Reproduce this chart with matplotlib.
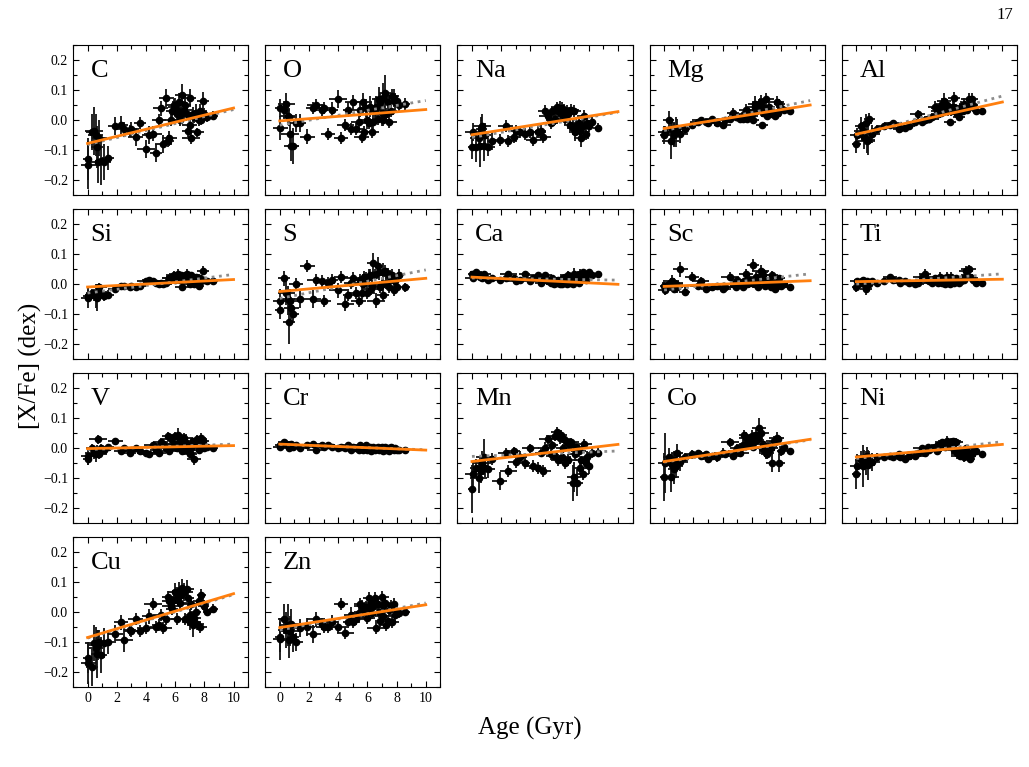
import numpy as np
import matplotlib
matplotlib.use("Agg")
import matplotlib.pyplot as plt
from matplotlib.ticker import MultipleLocator

plt.rcParams['font.family'] = ['Liberation Serif', 'DejaVu Serif']
plt.rcParams['mathtext.fontset'] = 'stix'

elements = ["C", "O", "Na", "Mg", "Al", "Si", "S", "Ca", "Sc", "Ti",
            "V", "Cr", "Mn", "Co", "Ni", "Cu", "Zn"]

ages = [0.0, 0.05, 0.3, 0.45, 0.55, 0.65, 0.7, 0.8, 0.9, 1.1,
        1.4, 1.9, 2.3, 2.5, 2.9, 3.0, 3.3, 3.6, 4.0, 4.2,
        4.5, 4.7, 4.9, 5.0, 5.2, 5.4, 5.5, 5.6, 5.7, 5.8,
        5.9, 6.0, 6.1, 6.2, 6.25, 6.3, 6.4, 6.5, 6.6, 6.7,
        6.8, 6.9, 7.0, 7.05, 7.1, 7.2, 7.3, 7.4, 7.5, 7.6,
        7.7, 7.8, 7.9, 8.0, 8.2, 8.6]
age_err = [0.3, 0.5, 0.4, 0.6, 0.5, 0.4, 0.6, 0.5, 0.4, 0.5,
           0.4, 0.5, 0.5, 0.6, 0.4, 0.5, 0.5, 0.4, 0.6, 0.5,
           0.6, 0.4, 0.5, 0.5, 0.6, 0.5, 0.4, 0.5, 0.6, 0.4,
           0.5, 0.5, 0.4, 0.6, 0.5, 0.5, 0.4, 0.5, 0.6, 0.4,
           0.5, 0.4, 0.5, 0.4, 0.6, 0.4, 0.5, 0.4, 0.5, 0.4,
           0.5, 0.3, 0.4, 0.3, 0.3, 0.3]

C = [-0.13, -0.15, -0.04, -0.035, -0.05, -0.09, -0.14, -0.06, -0.135, -0.14,
     -0.125, -0.02, -0.015, -0.03, -0.035, -0.03, -0.055, -0.01, -0.095, -0.05,
     -0.045, -0.11, 0.0, 0.04, -0.08, 0.075, -0.07, -0.06, 0.0, 0.03,
     0.05, 0.045, 0.02, 0.03, 0.06, 0.0, 0.02, 0.085, 0.035, 0.05,
     0.02, -0.035, -0.015, 0.075, -0.06, 0.02, 0.01, 0.025, -0.04, 0.0,
     0.03, 0.0, 0.065, 0.02, 0.01, 0.015]
C_err = [.07, .08, .06, .08, .07, .07, .07, .06, .08, .06,
         .04, .03, .03, .025, .02, .025, .03, .02, .03, .03,
         .025, .03, .02, .025, .03, .03, .02, .025, .02, .025,
         .02, .03, .025, .02, .03, .02, .025, .035, .03, .025,
         .02, .02, .025, .03, .02, .025, .02, .03, .015, .02,
         .025, .015, .03, .02, .015, .015]

O = [0.04, -0.025, 0.035, 0.055, 0.015, 0.01, -0.045, -0.085, -0.085, -0.01,
     -0.01, -0.055, 0.04, 0.05, 0.035, 0.04, -0.045, 0.035, 0.07, -0.06,
     -0.015, 0.035, -0.03, 0.06, -0.03, -0.005, 0.035, -0.055, 0.06, -0.04,
     0.04, 0.0, -0.01, 0.045, 0.04, -0.04, -0.005, 0.035, 0.045, 0.005,
     0.07, 0.06, 0.025, 0.0, 0.075, 0.09, 0.02, 0.06, -0.005, 0.03,
     0.08, 0.075, 0.06, 0.065, 0.05, 0.055]
O_err = [.03, .04, .03, .035, .03, .03, .04, .05, .06, .03,
         .03, .025, .02, .02, .02, .02, .02, .025, .03, .02,
         .02, .025, .02, .025, .02, .02, .025, .02, .03, .02,
         .03, .03, .02, .035, .02, .02, .025, .04, .035, .02,
         .04, .03, .045, .02, .05, .06, .02, .03, .02, .02,
         .025, .03, .03, .02, .02, .02]

Na = [-0.09, -0.04, -0.09, -0.06, -0.085, -0.03, -0.02, -0.085, -0.05, -0.09,
      -0.07, -0.065, -0.02, -0.07, -0.055, -0.035, -0.04, -0.045, -0.04, -0.065,
      -0.04, -0.035, -0.055, 0.03, 0.015, -0.01, 0.03, 0.0, 0.005, 0.045,
      0.03, 0.04, 0.02, 0.04, 0.025, 0.035, 0.005, 0.03, 0.02, -0.015,
      0.035, -0.025, 0.03, -0.04, -0.02, -0.03, -0.01, -0.035, -0.06, -0.02,
      0.015, -0.045, -0.01, -0.02, -0.005, -0.025]
Na_err = [.04, .03, .05, .04, .07, .04, .04, .05, .04, .03,
          .03, .02, .02, .02, .02, .02, .02, .02, .02, .02,
          .02, .02, .02, .02, .02, .02, .015, .02, .02, .015,
          .02, .025, .02, .02, .02, .02, .02, .02, .02, .02,
          .02, .025, .02, .03, .025, .02, .02, .025, .03, .02,
          .02, .02, .02, .02, .015, .015]

Mg = [-0.05, -0.04, 0.0, -0.07, -0.03, -0.045, -0.05, -0.04, -0.025, -0.045,
      -0.03, -0.015, -0.005, 0.0, -0.005, -0.01, 0.005, -0.01, -0.015, 0.0,
      0.005, 0.025, 0.01, 0.01, 0.005, 0.005, 0.02, 0.035, 0.005, 0.025,
      0.015, 0.02, 0.0, 0.045, 0.055, 0.035, 0.04, 0.05, 0.06, -0.015,
      0.025, 0.04, 0.07, 0.015, 0.03, 0.045, 0.03, 0.02, 0.02, 0.015,
      0.06, 0.025, 0.055, 0.04, 0.035, 0.03]
Mg_err = [.03, .02, .03, .06, .03, .04, .04, .05, .03, .03,
          .015, .01, .01, .01, .01, .01, .01, .01, .01, .01,
          .015, .015, .01, .01, .01, .01, .015, .02, .01, .015,
          .01, .015, .01, .02, .025, .015, .015, .02, .025, .01,
          .015, .02, .02, .01, .015, .015, .01, .01, .01, .01,
          .02, .01, .015, .01, .01, .01]

Al = [-0.08, -0.05, -0.02, -0.035, -0.055, -0.01, -0.07, -0.065, 0.005, -0.045,
      -0.03, -0.02, -0.015, -0.01, -0.03, -0.025, -0.025, -0.02, -0.005, 0.02,
      -0.005, 0.0, 0.005, 0.005, 0.01, 0.045, 0.03, 0.02, 0.04, 0.025,
      0.055, 0.065, 0.03, 0.05, 0.035, 0.045, -0.005, 0.03, 0.045, 0.075,
      0.04, 0.02, 0.03, 0.01, 0.035, 0.045, 0.03, 0.055, 0.04, 0.035,
      0.07, 0.055, 0.07, 0.05, 0.03, 0.03]
Al_err = [.03, .025, .03, .03, .04, .03, .04, .05, .02, .03,
          .015, .01, .01, .01, .01, .01, .01, .01, .01, .015,
          .01, .01, .01, .01, .01, .02, .015, .02, .01, .015,
          .02, .025, .015, .02, .02, .015, .01, .015, .02, .02,
          .015, .01, .015, .01, .015, .02, .01, .02, .015, .015,
          .02, .015, .02, .01, .01, .01]

Si = [-0.04, -0.045, -0.03, -0.035, -0.04, -0.045, -0.025, -0.01, -0.03, -0.04,
      -0.035, -0.015, -0.005, -0.005, -0.01, -0.005, -0.01, -0.005, 0.01, 0.015,
      0.01, 0.005, 0.0, 0.005, 0.0, 0.005, 0.01, 0.02, 0.02, 0.025,
      0.03, 0.015, 0.025, 0.035, 0.02, 0.015, 0.03, -0.01, 0.025, 0.03,
      0.035, 0.025, 0.0, 0.02, 0.03, 0.005, 0.0, 0.025, 0.015, -0.005,
      0.02, 0.01, 0.045, 0.015, 0.01, 0.01]
Si_err = [.02, .035, .015, .02, .04, .045, .015, .015, .02, .015,
          .015, .01, .01, .01, .01, .01, .01, .01, .01, .01,
          .01, .01, .01, .01, .01, .01, .01, .01, .01, .01,
          .015, .01, .01, .015, .01, .01, .01, .01, .01, .01,
          .015, .01, .01, .01, .01, .01, .01, .01, .01, .01,
          .01, .01, .015, .01, .01, .01]

S = [-0.085, -0.055, 0.02, -0.03, -0.05, -0.125, -0.055, -0.08, -0.1, 0.0,
     -0.05, 0.06, -0.05, 0.015, 0.01, -0.055, 0.005, 0.015, -0.02, 0.025,
     -0.065, -0.035, 0.005, 0.02, -0.03, -0.055, 0.015, -0.03, 0.0, 0.025,
     0.02, -0.03, 0.025, 0.03, -0.015, -0.005, 0.07, 0.03, -0.055, 0.06,
     0.04, -0.01, 0.0, -0.035, 0.04, 0.045, 0.005, 0.035, -0.01, 0.02,
     0.03, -0.02, 0.01, -0.01, 0.03, -0.01]
S_err = [.03, .04, .025, .04, .045, .075, .04, .035, .03, .02,
         .03, .02, .03, .02, .02, .02, .02, .02, .025, .02,
         .025, .02, .02, .02, .02, .02, .02, .02, .025, .02,
         .02, .02, .025, .02, .02, .02, .035, .02, .025, .03,
         .025, .02, .02, .02, .03, .02, .02, .02, .02, .02,
         .02, .02, .02, .015, .02, .015]

Ca = [0.035, 0.02, 0.04, 0.03, 0.025, 0.03, 0.02, 0.035, 0.025, 0.015,
      0.02, 0.015, 0.02, 0.035, 0.02, 0.01, 0.015, 0.035, 0.01, 0.02,
      0.03, 0.005, 0.015, 0.03, 0.01, 0.005, 0.02, 0.0, 0.01, 0.005,
      0.015, 0.0, 0.01, 0.0, 0.02, 0.015, 0.025, 0.0, 0.03, 0.005,
      0.02, 0.0, 0.035, 0.015, 0.01, 0.03, 0.005, 0.035, 0.02, 0.04,
      0.03, 0.015, 0.035, 0.04, 0.03, 0.035]
Ca_err = [.01, .01, .01, .01, .015, .01, .01, .01, .01, .01,
          .01, .01, .01, .01, .01, .01, .01, .01, .01, .01,
          .01, .01, .01, .01, .01, .01, .01, .01, .01, .01,
          .01, .01, .01, .01, .01, .01, .01, .01, .015, .01,
          .01, .01, .02, .01, .01, .01, .01, .015, .01, .01,
          .01, .01, .01, .01, .01, .01]

Sc = [-0.005, -0.02, 0.0, 0.005, 0.01, -0.015, 0.005, 0.0, -0.01, 0.05,
      -0.025, 0.025, -0.005, 0.01, -0.015, -0.01, -0.01, -0.005, -0.015, -0.01,
      0.025, 0.0, -0.01, 0.015, 0.005, -0.01, 0.01, 0.035, 0.0, 0.015,
      0.005, 0.01, 0.065, 0.0, 0.015, 0.025, -0.01, 0.01, 0.045, 0.04,
      0.03, -0.005, 0.01, 0.005, 0.0, 0.015, -0.01, 0.03, 0.005, -0.015,
      0.0, 0.01, 0.02, -0.005, 0.0, -0.01]
Sc_err = [.02, .015, .015, .015, .02, .015, .015, .015, .02, .025,
          .015, .015, .015, .015, .01, .01, .01, .01, .01, .01,
          .015, .01, .01, .01, .01, .01, .01, .015, .01, .01,
          .01, .01, .02, .01, .01, .015, .01, .01, .02, .015,
          .02, .01, .01, .01, .01, .01, .01, .015, .01, .01,
          .01, .01, .01, .01, .01, .01]

Ti = [-0.01, 0.01, 0.005, 0.015, 0.0, -0.015, 0.01, 0.005, 0.0, 0.01,
      0.005, 0.01, 0.025, 0.015, 0.015, 0.005, 0.01, 0.005, 0.0, 0.005,
      0.025, 0.035, 0.015, 0.01, 0.005, 0.02, 0.01, 0.005, 0.025, 0.015,
      0.005, 0.02, 0.0, 0.025, 0.01, 0.015, 0.0, 0.025, 0.01, 0.005,
      0.02, 0.015, 0.01, 0.005, 0.015, 0.01, 0.02, 0.015, 0.045, 0.03,
      0.05, 0.025, 0.02, 0.015, 0.005, 0.005]
Ti_err = [.015, .01, .015, .01, .015, .02, .01, .015, .01, .01,
          .01, .01, .01, .01, .01, .01, .01, .01, .01, .01,
          .01, .015, .01, .01, .01, .01, .01, .01, .015, .01,
          .01, .01, .01, .015, .01, .01, .01, .015, .01, .01,
          .01, .01, .01, .01, .01, .01, .01, .01, .015, .01,
          .015, .01, .01, .01, .01, .01]

V = [-0.035, -0.025, 0.0, -0.015, -0.02, -0.01, 0.03, -0.02, 0.0, -0.005,
     0.005, 0.025, -0.01, 0.0, -0.015, -0.005, 0.0, -0.01, -0.015, -0.02,
     0.01, -0.005, -0.015, 0.02, 0.015, 0.0, 0.04, -0.01, 0.03, 0.005,
     0.015, 0.04, 0.0, 0.045, 0.02, 0.01, 0.03, -0.01, 0.035, 0.02,
     -0.005, 0.01, -0.02, -0.015, 0.0, 0.025, -0.035, 0.015, 0.03, -0.005,
     0.03, 0.035, 0.025, 0.0, 0.005, 0.0]
V_err = [.02, .03, .015, .02, .025, .02, .015, .015, .015, .01,
         .01, .01, .01, .01, .01, .01, .01, .01, .01, .01,
         .01, .01, .01, .015, .01, .01, .015, .01, .015, .01,
         .01, .015, .01, .02, .01, .01, .015, .01, .015, .01,
         .01, .01, .01, .015, .01, .01, .02, .01, .015, .01,
         .01, .015, .01, .01, .01, .01]

Cr = [0.01, 0.005, 0.02, 0.015, 0.01, 0.0, 0.01, 0.015, 0.005, 0.01,
      0.0, 0.01, 0.015, -0.005, 0.01, 0.005, 0.01, 0.005, 0.0, 0.005,
      0.0, 0.01, -0.005, 0.005, 0.0, -0.005, 0.01, 0.005, -0.005, 0.0,
      0.01, -0.005, 0.0, 0.005, -0.01, 0.0, 0.005, -0.005, 0.0, 0.005,
      -0.005, 0.0, 0.005, -0.01, 0.0, 0.005, -0.005, 0.0, -0.01, 0.005,
      0.0, -0.005, 0.0, -0.005, -0.005, -0.005]
Cr_err = [.01, .008, .01, .008, .008, .008, .008, .008, .008, .008,
          .005, .005, .005, .005, .005, .005, .005, .005, .005, .005,
          .005, .005, .005, .005, .005, .005, .005, .005, .005, .005,
          .005, .005, .005, .005, .005, .005, .005, .005, .005, .005,
          .005, .005, .005, .005, .005, .005, .005, .005, .005, .005,
          .005, .005, .005, .005, .005, .005]

Mn = [-0.135, -0.085, -0.065, -0.1, -0.07, -0.075, -0.05, -0.03, -0.065, -0.07,
      -0.035, -0.11, -0.015, -0.075, -0.01, -0.045, -0.03, -0.05, 0.0, -0.06,
      -0.065, -0.015, -0.075, 0.0, 0.03, -0.02, 0.01, -0.025, 0.04, 0.055,
      -0.04, 0.035, 0.045, -0.03, 0.0, 0.03, -0.05, 0.02, -0.04, 0.01,
      0.02, -0.115, -0.095, -0.02, 0.005, -0.115, -0.01, -0.065, -0.04, -0.085,
      0.015, -0.05, -0.03, -0.06, -0.015, -0.015]
Mn_err = [.08, .04, .03, .05, .04, .04, .04, .06, .03, .03,
          .02, .03, .015, .02, .015, .02, .02, .02, .015, .02,
          .02, .015, .02, .02, .015, .02, .015, .015, .015, .015,
          .02, .02, .015, .02, .015, .015, .02, .015, .02, .015,
          .015, .06, .05, .02, .015, .045, .02, .025, .015, .02,
          .015, .02, .02, .025, .015, .015]

Co = [-0.095, -0.05, -0.03, -0.095, -0.055, -0.07, -0.04, -0.06, -0.015, -0.045,
      -0.03, -0.02, -0.015, -0.025, -0.02, -0.035, -0.025, -0.03, -0.015, -0.02,
      0.02, -0.025, -0.01, 0.0, -0.015, 0.01, 0.045, 0.035, 0.015, 0.03,
      0.02, 0.04, 0.005, 0.025, 0.035, 0.045, 0.03, 0.065, 0.05, 0.0,
      0.015, -0.01, -0.015, -0.02, 0.005, -0.005, 0.0, -0.05, 0.025, 0.02,
      0.035, 0.03, -0.05, -0.01, 0.005, -0.01]
Co_err = [.08, .1, .03, .05, .04, .05, .03, .04, .03, .03,
          .015, .015, .01, .015, .01, .015, .01, .015, .015, .01,
          .015, .01, .01, .01, .015, .02, .015, .02, .01, .015,
          .015, .02, .01, .02, .015, .02, .015, .035, .02, .015,
          .015, .02, .02, .015, .015, .015, .015, .03, .015, .015,
          .02, .015, .03, .015, .01, .01]

Ni = [-0.085, -0.06, -0.04, -0.06, -0.035, -0.05, -0.025, -0.055, -0.04, -0.045,
      -0.03, -0.03, -0.025, -0.03, -0.02, -0.03, -0.035, -0.025, -0.025, -0.015,
      0.0, -0.015, 0.005, -0.005, 0.0, 0.005, -0.01, 0.01, 0.005, 0.015,
      0.02, 0.015, 0.005, 0.025, 0.015, 0.02, 0.01, 0.02, 0.025, -0.005,
      0.02, -0.015, -0.02, -0.005, -0.025, -0.01, -0.02, -0.03, 0.0, -0.015,
      -0.025, -0.035, -0.02, -0.01, -0.01, -0.02]
Ni_err = [.05, .04, .03, .07, .03, .04, .03, .05, .03, .03,
          .015, .01, .01, .01, .01, .01, .01, .01, .01, .01,
          .01, .01, .01, .01, .01, .01, .01, .01, .01, .01,
          .01, .01, .01, .015, .01, .01, .01, .015, .01, .01,
          .015, .02, .015, .01, .015, .01, .015, .015, .01, .015,
          .015, .015, .015, .01, .01, .01]

Cu = [-0.155, -0.17, -0.185, -0.105, -0.12, -0.14, -0.11, -0.1, -0.145, -0.105,
      -0.1, -0.075, -0.035, -0.095, -0.06, -0.065, -0.025, -0.065, -0.055, -0.015,
      0.025, -0.05, -0.045, -0.01, -0.055, -0.025, 0.05, 0.035, 0.02, 0.01,
      0.04, 0.065, -0.025, 0.05, 0.07, 0.03, 0.055, 0.08, 0.065, -0.025,
      0.075, 0.045, -0.035, -0.01, 0.025, -0.045, -0.02, 0.0, -0.04, 0.035,
      -0.05, 0.055, 0.025, 0.02, 0.0, 0.01]
Cu_err = [.05, .07, .06, .06, .07, .08, .05, .04, .06, .05,
          .04, .03, .025, .04, .02, .02, .02, .02, .02, .025,
          .02, .02, .02, .02, .02, .02, .02, .025, .02, .02,
          .025, .03, .02, .025, .03, .02, .025, .03, .03, .02,
          .03, .025, .025, .02, .02, .04, .02, .025, .02, .02,
          .02, .02, .02, .02, .015, .015]

Zn = [-0.085, -0.09, -0.025, -0.06, -0.045, -0.095, -0.065, -0.04, -0.085, -0.1,
      -0.055, -0.05, -0.075, -0.025, -0.04, -0.05, -0.05, -0.035, -0.05, 0.025,
      -0.07, -0.035, -0.01, -0.035, -0.025, -0.005, 0.025, 0.02, 0.0, 0.01,
      0.015, -0.02, 0.045, 0.01, 0.03, -0.005, 0.02, 0.045, -0.055, 0.025,
      0.0, -0.03, 0.05, 0.02, -0.015, 0.03, -0.045, -0.03, 0.005, 0.02,
      -0.035, 0.025, -0.01, 0.0, -0.005, 0.0]
Zn_err = [.05, .07, .05, .06, .07, .06, .05, .05, .05, .03,
          .03, .03, .03, .025, .02, .02, .02, .025, .02, .02,
          .02, .02, .025, .02, .02, .02, .02, .02, .02, .02,
          .02, .02, .02, .02, .02, .02, .025, .02, .02, .02,
          .02, .02, .02, .02, .02, .02, .02, .02, .02, .02,
          .02, .02, .02, .02, .015, .015]

# linear fits: intercept at age 0 and slope (dex/Gyr)
orange_intercept = [-0.078, -0.003, -0.049, -0.028, -0.047, -0.010, -0.025, 0.023, -0.008,
                    0.008, -0.002, 0.013, -0.045, -0.045, -0.030, -0.085, -0.052]
orange_slope = [0.0118, 0.0038, 0.0077, 0.0078, 0.0107, 0.0025, 0.0044, -0.0024, 0.0019,
                0.0008, 0.0010, -0.0020, 0.0057, 0.0074, 0.0042, 0.0146, 0.0076]
gray_intercept = [-0.082, -0.017, -0.058, -0.035, -0.050, -0.030, -0.048, 0.020, -0.020,
                  0.000, -0.005, 0.012, -0.028, -0.047, -0.035, -0.087, -0.060]
gray_slope = [0.0117, 0.0082, 0.0084, 0.0100, 0.0130, 0.0062, 0.0095, -0.0007, 0.0054,
              0.0034, 0.0018, -0.0018, 0.0018, 0.0074, 0.0056, 0.0145, 0.0090]

values = [C, O, Na, Mg, Al, Si, S, Ca, Sc, Ti, V, Cr, Mn, Co, Ni, Cu, Zn]
errors = [C_err, O_err, Na_err, Mg_err, Al_err, Si_err, S_err, Ca_err, Sc_err, Ti_err,
          V_err, Cr_err, Mn_err, Co_err, Ni_err, Cu_err, Zn_err]

fig = plt.figure(figsize=(10.29, 7.67), dpi=100)
gs = fig.add_gridspec(4, 5, left=0.0709, right=0.9883, top=0.9413, bottom=0.1043,
                      wspace=0.097, hspace=0.093)

fit_x = np.array([0.0, 10.0])
for i, el in enumerate(elements):
    r, c = divmod(i, 5)
    ax = fig.add_subplot(gs[r, c])
    ax.errorbar(ages, values[i], xerr=age_err, yerr=errors[i], fmt='o', color='black',
                ms=4.5, elinewidth=1.3, ecolor='#111111', capsize=0, zorder=2)
    ax.plot(fit_x, gray_intercept[i] + gray_slope[i] * fit_x, ls=':', color='#8c8c8c',
            lw=2.0, zorder=3)
    ax.plot(fit_x, orange_intercept[i] + orange_slope[i] * fit_x, '-', color='#ff7f0e',
            lw=2.0, zorder=4)
    ax.set_xlim(-1, 11)
    ax.set_ylim(-0.25, 0.25)
    ax.xaxis.set_major_locator(MultipleLocator(2))
    ax.xaxis.set_minor_locator(MultipleLocator(1))
    ax.yaxis.set_major_locator(MultipleLocator(0.1))
    ax.yaxis.set_minor_locator(MultipleLocator(0.05))
    ax.tick_params(which='both', direction='in', top=True, right=True, labelsize=10)
    ax.tick_params(which='major', length=4, width=0.8)
    ax.tick_params(which='minor', length=3, width=0.8)
    ax.text(0.1, 0.9, el, transform=ax.transAxes, fontsize=19, va='top', ha='left')
    if c != 0:
        ax.tick_params(labelleft=False)
    if el not in ("Cu", "Zn"):
        ax.tick_params(labelbottom=False)

fig.text(0.03, 0.523, "[X/Fe] (dex)", rotation=90, fontsize=18, ha='center', va='center')
fig.text(0.515, 0.05, "Age (Gyr)", fontsize=18, ha='center', va='center')
fig.text(0.985, 0.98, "17", fontsize=12, ha='right', va='center')

fig.savefig("out.png", dpi=100)
